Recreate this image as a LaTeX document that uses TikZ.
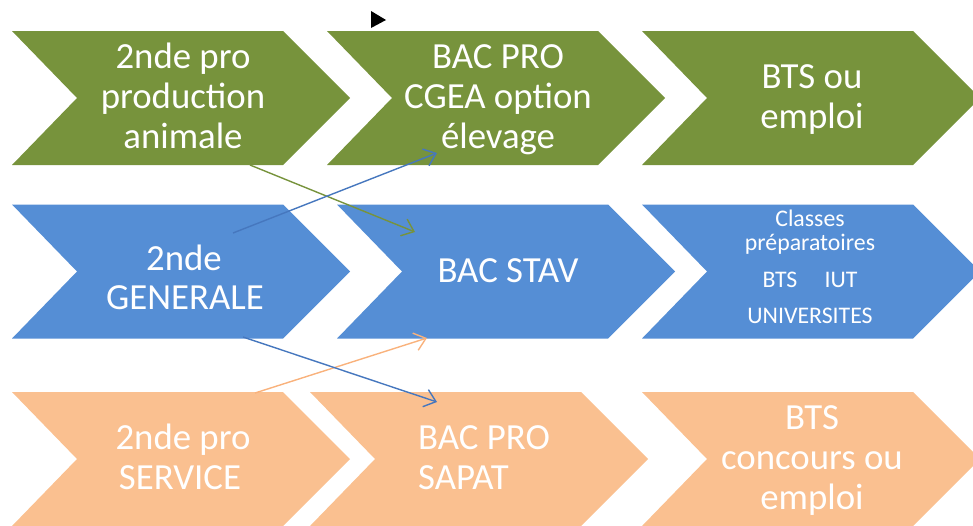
\documentclass[tikz,border=0pt]{standalone}
\usepackage{fontspec}
\setmainfont{Carlito}
\usetikzlibrary{arrows.meta}
\definecolor{cgreen}{HTML}{77933C}
\definecolor{cblue}{HTML}{558ED5}
\definecolor{corange}{HTML}{FAC090}
\definecolor{agreen}{HTML}{77933C}
\definecolor{ablue}{HTML}{4677BE}
\definecolor{aorange}{HTML}{F9B27C}
\newcommand{\drawchev}[3]{\fill[#1] (#2,#3-67) -- (#2+271,#3-67) -- (#2+338,#3) -- (#2+271,#3+67) -- (#2,#3+67) -- (#2+65,#3) -- cycle;}
\tikzset{
  big/.style={text=white, anchor=base, inner sep=0pt, font=\fontsize{36.8}{40}\selectfont},
  small/.style={text=white, anchor=base, inner sep=0pt, font=\fontsize{23.8}{26}\selectfont},
  conn/.style={line width=1.4pt, -{Straight Barb[length=11pt,width=18pt]}},
}
\begin{document}
\begin{tikzpicture}[x=1pt,y=-1pt]
\useasboundingbox (0,0) rectangle (973,525);
\clip (0,0) rectangle (973,525);
% chevrons
\drawchev{cgreen}{12}{98}
\drawchev{cgreen}{327}{98}
\drawchev{cgreen}{642}{98}
\drawchev{cblue}{12}{271.5}
\drawchev{cblue}{337}{271.5}
\drawchev{cblue}{642}{271.5}
\drawchev{corange}{12}{459}
\drawchev{corange}{310}{459}
\drawchev{corange}{642}{459}
% small black triangle
\fill (371,11) -- (386,20) -- (371,28) -- cycle;
% row 1 texts
\node[big] (t11a) at (183,68) {2nde pro};
\node[big] (t11b) at (183,108) {production};
\node[big] (t11c) at (183,148) {animale};
\node[big] (t12a) at (498,68) {BAC PRO};
\node[big] (t12b) at (498,108) {CGEA option};
\node[big] (t12c) at (498,148) {élevage};
\node[big] (t13a) at (812,88) {BTS ou};
\node[big] (t13b) at (812,128) {emploi};
% row 2 texts
\node[big] (t21a) at (184,270) {2nde};
\node[big] (t21b) at (185,309) {GENERALE};
\node[big] (t22) at (508,282) {BAC STAV};
\node[small] (t23a) at (810,226) {Classes};
\node[small] (t23b) at (810,250) {préparatoires};
\node[small] (t23c) at (780,287) {BTS};
\node[small] (t23d) at (841,287) {IUT};
\node[small] (t23e) at (810,323) {UNIVERSITES};
% row 3 texts
\node[big] (t31a) at (183,449) {2nde pro};
\node[big] (t31b) at (180,489) {SERVICE};
\node[big, anchor=base west] (t32a) at (418,449) {BAC PRO};
\node[big, anchor=base west] (t32b) at (418,489) {SAPAT};
\node[big] (t33a) at (812,429) {BTS};
\node[big] (t33b) at (812,469) {concours ou};
\node[big] (t33c) at (812,509) {emploi};
% connector end points
\coordinate (gA) at (250,165);
\coordinate (gB) at (415,232);
\coordinate (bA) at (233,233);
\coordinate (bB) at (437,153);
\coordinate (cA) at (243,337);
\coordinate (cB) at (437,402);
\coordinate (oA) at (255,393);
\coordinate (oB) at (427,338);
% connectors
\draw[conn, aorange] (oA) -- (oB);
\draw[conn, agreen] (gA) -- (gB);
\draw[conn, ablue] (bA) -- (bB);
\draw[conn, ablue] (cA) -- (cB);
\end{tikzpicture}
\end{document}
